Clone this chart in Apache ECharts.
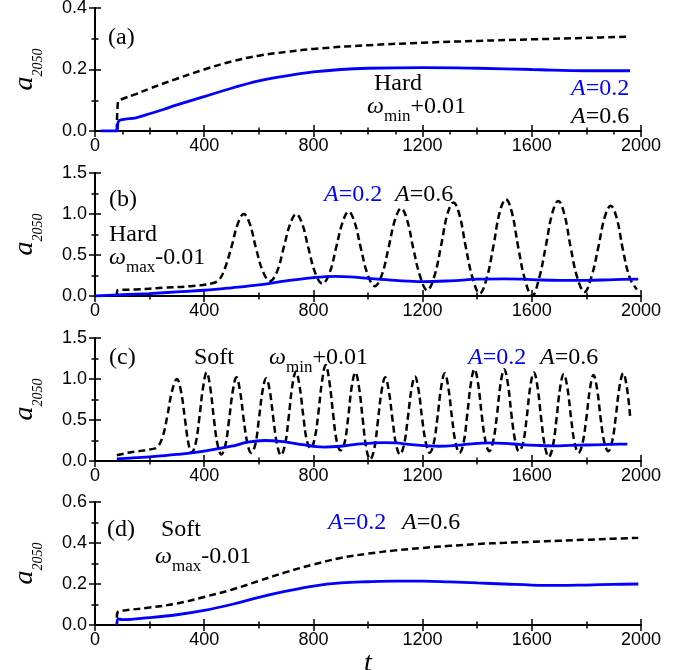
<!DOCTYPE html>
<html><head><meta charset="utf-8">
<script src="https://cdn.jsdelivr.net/npm/echarts@6/dist/echarts.min.js"></script>
<style>html,body{margin:0;padding:0;background:#fff}#c{width:690px;height:670px}</style>
</head><body><div id="c"></div>
<script>
// ---- tick labels ----
const xTicks = [0, 400, 800, 1200, 1600, 2000];
const yTicksA = [0.0, 0.2, 0.4];
const yTicksB = [0.0, 0.5, 1.0, 1.5];
const yTicksC = [0.0, 0.5, 1.0, 1.5];
const yTicksD = [0.0, 0.2, 0.4, 0.6];

// ---- (a) Hard, omega_min+0.01 ----
const aBlueT = [20, 80, 85, 100, 150, 200, 250, 300, 400, 500, 600, 700, 800, 900, 1000, 1200, 1400, 1600, 1800, 1960];
const aBlueV = [0, 0, 0.03, 0.037, 0.043, 0.056, 0.07, 0.085, 0.112, 0.139, 0.163, 0.179, 0.192, 0.2, 0.204, 0.206, 0.204, 0.2, 0.196, 0.196];
const aBlackT = [80, 84, 100, 150, 200, 300, 400, 500, 600, 700, 800, 1000, 1200, 1400, 1600, 1800, 1960];
const aBlackV = [0, 0.095, 0.104, 0.12, 0.138, 0.17, 0.2, 0.226, 0.245, 0.257, 0.267, 0.279, 0.287, 0.293, 0.298, 0.303, 0.307];

// ---- (b) Hard, omega_max-0.01 ----
const bBlueT = [0, 100, 200, 300, 400, 500, 600, 700, 800, 880, 950, 1000, 1100, 1200, 1300, 1400, 1500, 1600, 1700, 1800, 1900, 1990];
const bBlueV = [0, 0.015, 0.03, 0.05, 0.07, 0.1, 0.135, 0.185, 0.225, 0.24, 0.23, 0.215, 0.19, 0.175, 0.185, 0.205, 0.21, 0.2, 0.19, 0.19, 0.2, 0.205];
const bBlackT = [80, 82, 150, 250, 350, 430, 455, 475, 500, 523, 545, 567, 590, 615, 641,
  667, 692, 715, 737, 759, 782, 807, 833,
  859, 884, 907, 929, 951, 974, 999, 1025,
  1051, 1076, 1099, 1121, 1143, 1166, 1191, 1217,
  1243, 1268, 1291, 1313, 1335, 1358, 1383, 1409,
  1435, 1460, 1483, 1505, 1527, 1550, 1575, 1601,
  1627, 1652, 1675, 1697, 1719, 1742, 1767, 1793,
  1819, 1844, 1867, 1889, 1911, 1934, 1959, 1985];
const bBlackV = [0, 0.07, 0.08, 0.1, 0.12, 0.155, 0.2, 0.33, 0.6, 0.88, 1.0, 0.88, 0.58, 0.3, 0.18,
  0.3, 0.6, 0.88, 1.0, 0.88, 0.58, 0.28, 0.15,
  0.28, 0.6, 0.9, 1.03, 0.9, 0.58, 0.26, 0.12,
  0.26, 0.6, 0.93, 1.07, 0.93, 0.58, 0.24, 0.07,
  0.24, 0.62, 1.0, 1.14, 0.99, 0.6, 0.22, 0.03,
  0.22, 0.62, 1.03, 1.18, 1.02, 0.6, 0.2, 0.0,
  0.22, 0.62, 1.01, 1.16, 1.0, 0.6, 0.22, 0.05,
  0.24, 0.6, 0.96, 1.1, 0.95, 0.56, 0.22, 0.08];

// ---- (c) Soft, omega_min+0.01 ----
const cBlueT = [80, 150, 200, 300, 400, 500, 560, 620, 680, 740, 800, 840, 900, 960, 1020, 1060, 1100, 1160, 1220, 1260, 1320, 1380, 1440, 1500, 1560, 1620, 1680, 1740, 1800, 1860, 1920, 1950];
const cBlueV = [0.025, 0.04, 0.05, 0.08, 0.12, 0.18, 0.23, 0.25, 0.24, 0.21, 0.18, 0.17, 0.18, 0.205, 0.22, 0.225, 0.22, 0.2, 0.185, 0.18, 0.19, 0.21, 0.22, 0.215, 0.2, 0.19, 0.185, 0.19, 0.195, 0.2, 0.205, 0.205];
const cBlackT = [80, 120, 160, 200, 228, 248, 265, 282, 300, 315, 330, 342, 354,
  369, 382, 396, 409, 422, 436, 449, 463,
  478, 491, 505, 518, 531, 545, 558, 572,
  587, 600, 614, 627, 640, 654, 667, 681,
  696, 709, 723, 736, 749, 763, 776, 790,
  805, 818, 832, 845, 858, 872, 885, 899,
  914, 927, 941, 954, 967, 981, 994, 1008,
  1023, 1036, 1050, 1063, 1076, 1090, 1103, 1117,
  1132, 1145, 1159, 1172, 1185, 1199, 1212, 1226,
  1241, 1254, 1268, 1281, 1294, 1308, 1321, 1335,
  1350, 1363, 1377, 1390, 1403, 1417, 1430, 1444,
  1459, 1472, 1486, 1499, 1512, 1526, 1539, 1553,
  1568, 1581, 1595, 1608, 1621, 1635, 1648, 1662,
  1677, 1690, 1704, 1717, 1730, 1744, 1757, 1771,
  1786, 1799, 1813, 1826, 1839, 1853, 1866, 1880,
  1895, 1908, 1922, 1935, 1948, 1960];
const cBlackV = [0.07, 0.1, 0.12, 0.14, 0.17, 0.3, 0.55, 0.85, 1.0, 0.85, 0.5, 0.22, 0.1,
  0.22, 0.52, 0.9, 1.08, 0.9, 0.5, 0.2, 0.08,
  0.2, 0.5, 0.86, 1.02, 0.86, 0.5, 0.22, 0.1,
  0.2, 0.5, 0.86, 1.01, 0.86, 0.5, 0.2, 0.07,
  0.2, 0.52, 0.92, 1.09, 0.92, 0.55, 0.25, 0.15,
  0.28, 0.58, 0.98, 1.17, 0.98, 0.58, 0.25, 0.13,
  0.22, 0.52, 0.92, 1.08, 0.9, 0.5, 0.15, 0.02,
  0.15, 0.48, 0.86, 1.02, 0.86, 0.5, 0.2, 0.08,
  0.2, 0.5, 0.87, 1.03, 0.87, 0.5, 0.22, 0.1,
  0.22, 0.52, 0.9, 1.07, 0.9, 0.52, 0.22, 0.1,
  0.22, 0.55, 0.95, 1.12, 0.95, 0.55, 0.25, 0.12,
  0.25, 0.55, 0.95, 1.12, 0.95, 0.55, 0.25, 0.12,
  0.22, 0.52, 0.92, 1.08, 0.9, 0.5, 0.18, 0.05,
  0.18, 0.5, 0.9, 1.06, 0.9, 0.52, 0.22, 0.1,
  0.22, 0.5, 0.88, 1.05, 0.88, 0.5, 0.22, 0.12,
  0.25, 0.55, 0.92, 1.07, 0.9, 0.55];

// ---- (d) Soft, omega_max-0.01 ----
const dBlueT = [80, 85, 100, 200, 300, 400, 500, 600, 700, 800, 900, 1000, 1100, 1200, 1300, 1400, 1500, 1600, 1700, 1800, 1900, 1990];
const dBlueV = [0, 0.03, 0.026, 0.036, 0.05, 0.071, 0.1, 0.135, 0.165, 0.19, 0.205, 0.211, 0.214, 0.214, 0.21, 0.205, 0.2, 0.195, 0.193, 0.195, 0.198, 0.2];
const dBlackT = [80, 84, 100, 200, 300, 400, 500, 600, 700, 800, 900, 1000, 1100, 1200, 1300, 1400, 1500, 1600, 1700, 1800, 1900, 1990];
const dBlackV = [0.035, 0.065, 0.07, 0.085, 0.105, 0.137, 0.172, 0.215, 0.258, 0.295, 0.327, 0.348, 0.364, 0.376, 0.386, 0.395, 0.401, 0.406, 0.411, 0.416, 0.421, 0.425];

// ---------------------------------------------------------------
const SERIF = '"Liberation Serif", "DejaVu Serif", serif';
const SANS = '"Liberation Sans", Arial, sans-serif';
const BLUE = '#0000ff';
const panels = [
  {yt: yTicksA, blue: [aBlueT, aBlueV], black: [aBlackT, aBlackV], topMinor: 4},
  {yt: yTicksB, blue: [bBlueT, bBlueV], black: [bBlackT, bBlackV], topMinor: 2},
  {yt: yTicksC, blue: [cBlueT, cBlueV], black: [cBlackT, cBlackV], topMinor: 2},
  {yt: yTicksD, blue: [dBlueT, dBlueV], black: [dBlackT, dBlackV], topMinor: 2}
];
const tops = [8, 173, 338, 502];
const H = 123, L = 95, W = 546;
const pairs = (ts, vs) => ts.map((t, i) => [t, vs[i]]);

const grid = [], xAxis = [], yAxis = [], series = [];
const lineCommon = {show: true, lineStyle: {color: '#000', width: 2}};
panels.forEach((p, i) => {
  grid.push({left: L, top: tops[i], width: W, height: H, outerBoundsMode: 'none', containLabel: false});
  const xi = xTicks[1] - xTicks[0];
  const baseX = {
    type: 'value', gridIndex: i, min: xTicks[0], max: xTicks[xTicks.length - 1], interval: xi,
    axisLine: lineCommon, splitLine: {show: false},
    axisTick: {show: true, inside: true, length: 6, lineStyle: {color: '#000', width: 1.5}},
    minorTick: {show: true, splitNumber: 2, length: 3.5, lineStyle: {color: '#000', width: 1.5}},
    minorSplitLine: {show: false}
  };
  xAxis.push(Object.assign({}, baseX, {
    position: 'bottom',
    axisLabel: {show: true, color: '#000', fontSize: 18, fontFamily: SANS, margin: 6, hideOverlap: false,
      formatter: v => String(v)},
    name: i === 3 ? 't' : '', nameLocation: 'middle', nameGap: 20,
    nameTextStyle: {fontFamily: SERIF, fontStyle: 'italic', fontSize: 28, color: '#000', lineHeight: 28}
  }));
  xAxis.push(Object.assign({}, baseX, {
    position: 'top', axisLabel: {show: false},
    minorTick: {show: true, splitNumber: p.topMinor, length: 3.5, lineStyle: {color: '#000', width: 1.5}}
  }));
  const yt = p.yt;
  const yi = +(yt[1] - yt[0]).toFixed(3);
  const baseY = {
    type: 'value', gridIndex: i, min: yt[0], max: yt[yt.length - 1], interval: yi,
    axisLine: lineCommon, splitLine: {show: false},
    axisTick: {show: true, inside: true, length: 6, lineStyle: {color: '#000', width: 1.5}},
    minorTick: {show: true, splitNumber: 2, length: 3.5, lineStyle: {color: '#000', width: 1.5}},
    minorSplitLine: {show: false}
  };
  yAxis.push(Object.assign({}, baseY, {
    position: 'left',
    axisLabel: {show: true, color: '#000', fontSize: 18, fontFamily: SANS, margin: 8,
      formatter: v => v.toFixed(1)},
    name: '{a|a}{s|2050}', nameLocation: 'middle', nameGap: 50,
    nameTextStyle: {rich: {
      a: {fontFamily: SERIF, fontStyle: 'italic', fontSize: 28, lineHeight: 28, verticalAlign: 'top', color: '#000'},
      s: {fontFamily: SERIF, fontStyle: 'italic', fontSize: 14, lineHeight: 34, verticalAlign: 'bottom', color: '#000'}
    }}
  }));
  yAxis.push(Object.assign({}, baseY, {position: 'right', axisLabel: {show: false}}));

  series.push({
    type: 'line', xAxisIndex: 2 * i, yAxisIndex: 2 * i, data: pairs(p.black[0], p.black[1]),
    showSymbol: false, symbol: 'none', smooth: 0.4,
    lineStyle: {color: '#000', width: 2.5, type: [7, 4]}, z: 2
  });
  series.push({
    type: 'line', xAxisIndex: 2 * i, yAxisIndex: 2 * i, data: pairs(p.blue[0], p.blue[1]),
    showSymbol: false, symbol: 'none', smooth: 0.4,
    lineStyle: {color: BLUE, width: 2.8}, z: 3
  });
});

// ---- annotations ----
function rich(color) {
  return {
    n: {fontFamily: SERIF, fontSize: 24, lineHeight: 24, verticalAlign: 'top', fill: color},
    i: {fontFamily: SERIF, fontStyle: 'italic', fontSize: 24, lineHeight: 24, verticalAlign: 'top', fill: color},
    s: {fontFamily: SERIF, fontSize: 17, lineHeight: 31, verticalAlign: 'bottom', fill: color}
  };
}
function ann(x, y, text, color) {
  const hasSub = text.indexOf('{s|') >= 0;
  return {
    type: 'text', x: x, y: y + (hasSub ? 3 : 0), z: 100,
    style: {text: text, rich: rich(color), fill: color, textAlign: 'left', textVerticalAlign: 'middle'}
  };
}
const graphic = [
  ann(108, 38, '{n|(a)}', '#000'),
  ann(374, 84, '{n|Hard}', '#000'),
  ann(367, 107, '{i|ω}{s|min}{n|+0.01}', '#000'),
  ann(571, 89, '{i|A}{n|=0.2}', BLUE),
  ann(571, 117, '{i|A}{n|=0.6}', '#000'),

  ann(109, 200, '{n|(b)}', '#000'),
  ann(324, 195, '{i|A}{n|=0.2}', BLUE),
  ann(395, 195, '{i|A}{n|=0.6}', '#000'),
  ann(109, 235, '{n|Hard}', '#000'),
  ann(109, 258, '{i|ω}{s|max}{n|-0.01}', '#000'),

  ann(109, 358, '{n|(c)}', '#000'),
  ann(194, 358, '{n|Soft}', '#000'),
  ann(269, 358, '{i|ω}{s|min}{n|+0.01}', '#000'),
  ann(468, 358, '{i|A}{n|=0.2}', BLUE),
  ann(540, 358, '{i|A}{n|=0.6}', '#000'),

  ann(107, 530, '{n|(d)}', '#000'),
  ann(161, 530, '{n|Soft}', '#000'),
  ann(155, 557, '{i|ω}{s|max}{n|-0.01}', '#000'),
  ann(328, 523, '{i|A}{n|=0.2}', BLUE),
  ann(402, 523, '{i|A}{n|=0.6}', '#000')
];

const chart = echarts.init(document.getElementById('c'), null, {renderer: 'canvas'});
chart.setOption({
  animation: false,
  backgroundColor: '#fff',
  grid, xAxis, yAxis, series, graphic
});
</script>
</body></html>
